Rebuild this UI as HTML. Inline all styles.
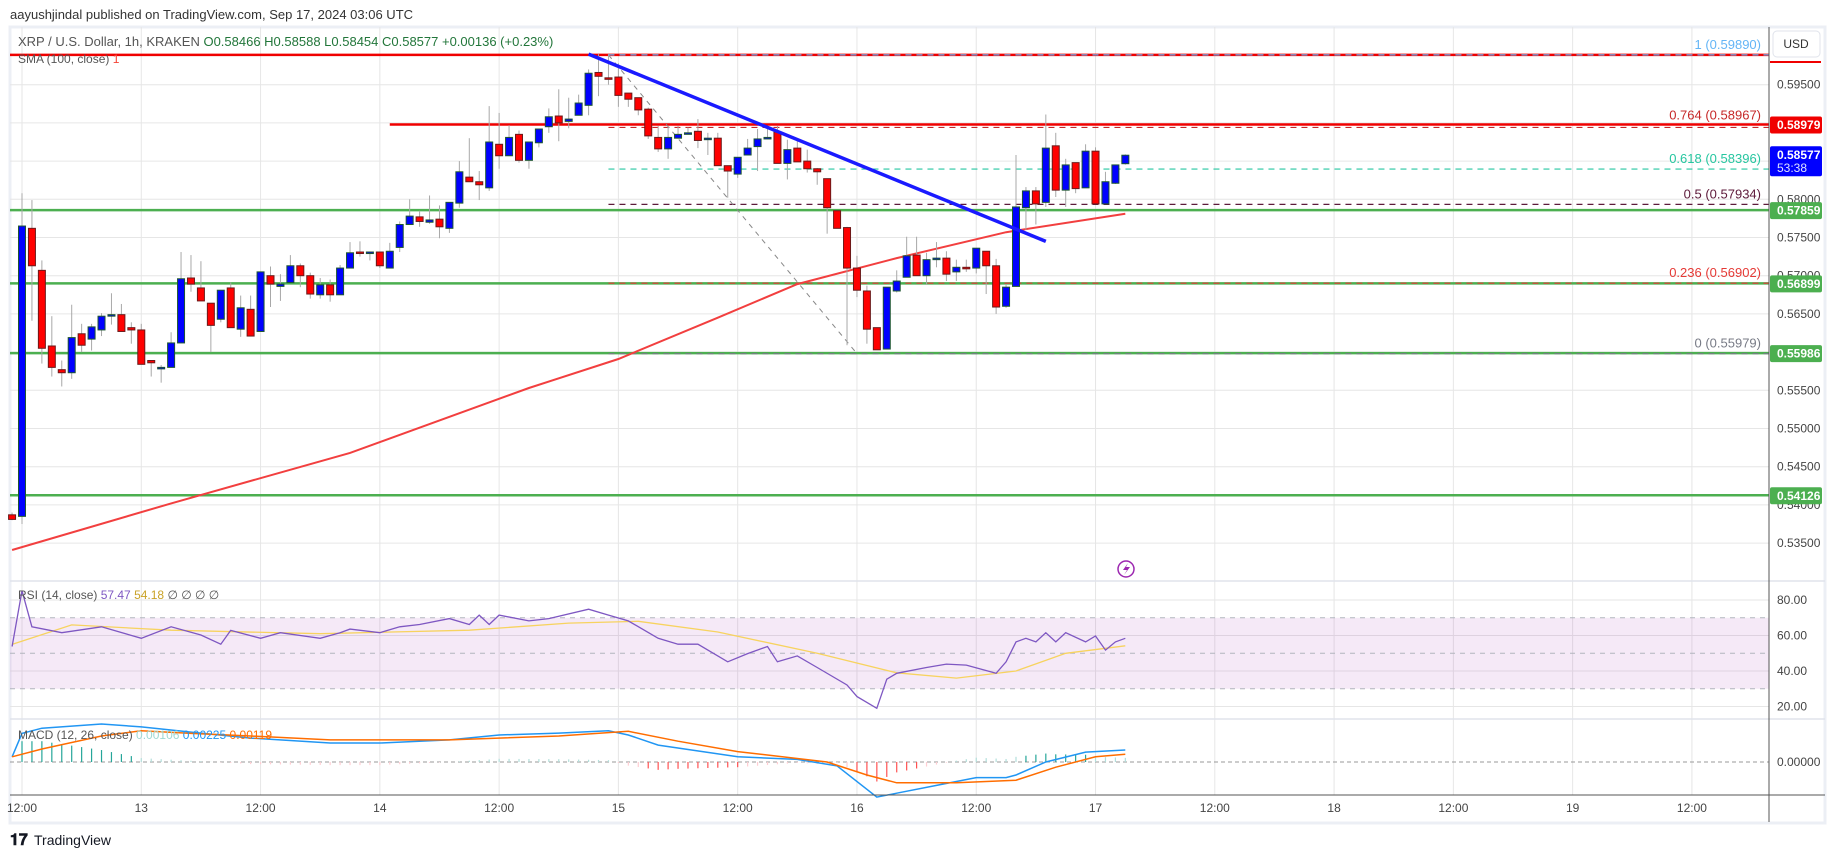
<!DOCTYPE html>
<html><head><meta charset="utf-8"><style>
html,body{margin:0;padding:0;background:#fff;width:1835px;height:857px;overflow:hidden}
svg{display:block;font-family:"Liberation Sans",sans-serif}
</style></head><body>
<svg id="chart" width="1835" height="857" viewBox="0 0 1835 857" xmlns="http://www.w3.org/2000/svg">
<text x="10" y="19" font-size="13" fill="#333">aayushjindal published on TradingView.com, Sep 17, 2024 03:06 UTC</text>
<rect x="10" y="27" width="1815" height="796" fill="#fff" stroke="#eceff5" stroke-width="3"/>
<g id="grid"></g>
<g id="levels"></g>
<g id="candles"></g>
<g id="overlay"></g>
<g id="rsi"></g>
<g id="macd"></g>
<g id="axes"></g>
<g>
<text x="18" y="46" font-size="13" fill="#555">XRP / U.S. Dollar, 1h, KRAKEN <tspan fill="#22763a">O0.58466 H0.58588 L0.58454 C0.58577 +0.00136 (+0.23%)</tspan></text>
<text x="18" y="63" font-size="12" fill="#555">SMA (100, close) <tspan fill="#f44336">1</tspan></text>
</g>
<g><text x="18" y="599" font-size="12" fill="#555">RSI (14, close) <tspan fill="#7e57c2">57.47</tspan> <tspan fill="#c9a227">54.18</tspan> ∅ ∅ ∅ ∅</text></g>
<g><text x="18" y="739" font-size="12" fill="#555">MACD (12, 26, close) <tspan fill="#9fd9d3">0.00106</tspan> <tspan fill="#2196f3">0.00225</tspan> <tspan fill="#ff6d00">0.00119</tspan></text></g>
<g><circle cx="1126" cy="569" r="8" fill="#fff" stroke="#9c27b0" stroke-width="1.5"/><path d="M1128 563 L1123 570 L1127 570 L1124 575 L1130 567 L1126 567 Z" fill="#9c27b0"/></g>
<g><text x="10" y="845" font-size="16" font-weight="bold" fill="#131722">𝟏𝟕</text><text x="34" y="845" font-size="14" fill="#131722">TradingView</text></g>
</svg>
<script>
const tIdx=[-1,0,1,2,3,4,5,6,7,8,9,10,11,12,13,14,15,16,17,18,19,20,21,22,23,24,25,26,27,28,29,30,31,32,33,34,35,36,37,38,39,40,41,42,43,44,45,46,47,48,49,50,51,52,53,54,55,56,57,58,59,60,61,62,63,64,65,66,67,68,69,70,71,72,73,74,75,76,77,78,79,80,81,82,83,84,85,86,87,88,89,90,91,92,93,94,95,96,97,98,99,100,101,102,103,104,105,106,107,108,109,110,111];
const opens=[.5387,.5385,.5762,.5707,.5608,.5577,.5573,.5624,.5617,.5629,.5648,.5649,.5632,.5629,.5589,.5579,.5580,.5612,.5697,.5684,.5664,.5643,.5684,.5630,.5656,.5627,.5700,.5686,.5691,.5713,.5700,.5675,.5688,.5675,.5710,.5731,.5729,.5731,.5710,.5737,.5767,.5777,.5770,.5774,.5762,.5795,.5829,.5823,.5815,.5872,.5857,.5885,.5851,.5874,.5895,.5909,.5902,.5910,.5923,.5966,.5959,.5960,.5939,.5933,.5918,.5881,.5866,.5880,.5887,.5889,.5879,.5880,.5844,.5833,.5858,.5869,.5879,.5888,.5847,.5867,.5850,.5840,.5827,.5785,.5763,.5710,.5680,.5632,.5604,.5680,.5698,.5727,.5700,.5721,.5723,.5705,.5711,.5710,.5732,.5713,.5660,.5686,.5789,.5811,.5796,.5870,.5812,.5848,.5815,.5863,.5794,.5821,.58466];
const highs=[.5390,.5808,.5799,.5720,.5647,.5589,.5662,.5637,.5637,.5651,.5677,.5663,.5639,.5637,.5589,.5583,.5626,.5731,.5727,.5719,.5664,.5681,.5691,.5674,.5674,.5705,.5712,.5702,.5727,.5716,.5704,.5697,.5695,.5714,.5744,.5745,.5731,.5731,.5743,.5771,.5800,.5785,.5805,.5792,.5796,.5850,.5880,.5837,.5922,.5913,.5897,.5890,.5875,.5892,.5919,.5944,.5933,.5937,.5970,.5990,.5990,.5978,.5939,.5933,.5920,.5896,.5896,.5896,.5894,.5905,.5887,.5887,.5844,.5855,.5879,.5892,.5896,.5896,.5878,.5878,.5865,.5841,.5827,.5785,.5764,.5726,.5687,.5632,.5685,.5707,.5751,.5751,.5730,.5744,.5732,.5721,.5721,.5736,.5732,.5722,.5689,.5858,.5816,.5816,.5911,.5887,.5853,.5848,.5872,.5868,.5836,.5845,.58588];
const lows=[.5380,.5375,.5641,.5585,.5568,.5555,.5565,.5600,.5602,.5621,.5636,.5627,.5611,.5584,.5568,.5560,.5580,.5612,.5679,.5667,.5600,.5639,.5632,.5620,.5621,.5627,.5659,.5667,.5691,.5685,.5670,.5670,.5666,.5675,.5710,.5725,.5720,.5710,.5710,.5731,.5767,.5764,.5768,.5749,.5756,.5789,.5823,.5799,.5811,.5840,.5857,.5848,.5840,.5868,.5887,.5876,.5893,.5910,.5910,.5935,.5950,.5921,.5921,.5910,.5879,.5862,.5853,.5880,.5885,.5867,.5858,.5844,.5802,.5828,.5858,.5837,.5879,.5847,.5826,.5849,.5835,.5819,.5755,.5762,.5609,.5672,.5611,.5603,.5604,.5678,.5698,.5700,.5688,.5711,.5693,.5693,.5705,.5703,.5676,.5650,.5658,.5686,.5760,.5767,.5790,.5803,.5790,.5808,.5815,.5794,.5794,.5820,.58454];
const closes=[.5381,.5765,.5713,.5605,.5580,.5573,.5619,.5609,.5633,.5647,.5649,.5627,.5629,.5584,.5586,.5580,.5612,.5696,.5689,.5667,.5635,.5681,.5632,.5658,.5621,.5705,.5689,.5689,.5713,.5700,.5676,.5688,.5675,.5710,.5730,.5730,.5731,.5713,.5732,.5767,.5778,.5771,.5773,.5764,.5796,.5836,.5823,.5819,.5875,.5857,.5881,.5851,.5875,.5892,.5908,.5900,.5905,.5926,.5965,.5961,.5958,.5936,.5931,.5917,.5883,.5866,.5881,.5885,.5887,.5877,.5880,.5844,.5837,.5855,.5867,.5879,.5881,.5847,.5865,.5849,.5840,.5836,.5789,.5762,.5710,.5681,.5630,.5603,.5685,.5693,.5726,.5700,.5721,.5723,.5702,.5711,.5709,.5736,.5713,.5659,.5685,.5790,.5811,.5794,.5867,.5812,.5845,.5814,.5863,.5794,.5823,.5845,.58577];
const smaT=[-1,15,33,51,60,70,78,88,99,111];
const smaV=[.5341,.5402,.5468,.5553,.5591,.5645,.5689,.5723,.5757,.5781];
const rsiT=[-1,0,1,4,8,12,15,18,20,21,24,26,30,32,33,36,38,40,43,45,46,47,48,51,53,57,59,61,64,66,68,71,73,75,76,78,80,83,84,86,87,88,91,93,95,98,99,100,101,102,103,104,105,107,108,109,110,111];
const rsiV=[53.8,85.2,64.9,61.6,64.9,58.4,64.9,60.3,55.1,62.9,58.4,61.6,58.4,61.6,63.6,61.6,64.9,66.2,69.5,66.2,71.5,66.2,71.5,68.2,69.5,74.8,71.5,68.2,58.4,55.1,55.1,45.2,49.8,53.8,45.2,48.5,42,32.1,25.6,19,35.4,38.7,42,43.9,43.3,38.7,45.2,56.4,58.4,56.4,61.6,56.4,61.6,56.4,59.7,51.8,56.4,58.4];
const rsiMaT=[-1,5,15,30,45,55,62,70,80,88,94,100,105,111];
const rsiMaV=[55,66,63,61,63,67,68,62,50,39,36,40,50,54.2];
const macdT=[-1,0,2,8,12,17,23,31,36,43,48,54,59,61,64,72,78,82,86,88,92,96,99,100,103,107,111];
const macdV=[.0002,.0011,.0013,.00146,.00135,.00115,.00092,.00073,.00073,.00085,.00104,.00111,.0012,.00104,.00065,.0002,.0001,-.00015,-.00135,-.0012,-.0009,-.0006,-.0006,-.0005,0,.00038,.00046];
const sigT=[-1,2,8,12,17,23,31,43,54,61,66,72,81,85,88,94,100,104,108,111];
const sigV=[.0002,.0005,.001,.0012,.0011,.001,.00085,.00085,.001,.00118,.0008,.0004,0,-.0005,-.0008,-.0008,-.0007,-.0002,.0002,.0003];
const priceTicks=[.595,.59,.585,.58,.575,.57,.565,.56,.555,.55,.545,.54,.535];
const timeT=[0,12,24,36,48,60,72,84,96,108,120,132,144,156,168];
const timeLabels=["12:00","13","12:00","14","12:00","15","12:00","16","12:00","17","12:00","18","12:00","19","12:00"];
const hLevels=[.59890,.57859,.56899,.55986,.54126];
const hColors=["#f00000","#4caf50","#4caf50","#4caf50","#4caf50"];
const fibRatio=["1","0.764","0.618","0.5","0.236","0"];
const fibPrice=[.59890,.58967,.58396,.57934,.56902,.55979];
const fibColor=["#64b5f6","#c62828","#26c6a0","#5d1a3a","#e53935","#787b86"];
const rsiTicks=[80,60,40,20];
const trendT=[57,103];const trendP=[.5990,.5745];
const fibDiagT=[59,84];const fibDiagP=[.5989,.5598];

const NS="http://www.w3.org/2000/svg";
const X0=22,DX=9.94,R=1769;
const xOf=t=>X0+t*DX;
const yP=p=>199.3-(p-0.58)*7640;
const yR=v=>600+(80-v)*1.775;
const yM=v=>762-v*26000;
function mk(tag,parent,attrs){const e=document.createElementNS(NS,tag);for(const k in attrs)e.setAttribute(k,attrs[k]);document.getElementById(parent).appendChild(e);return e;}
function interp(T,V,t){if(t<=T[0])return V[0];for(let i=1;i<T.length;i++){if(t<=T[i]){const f=(t-T[i-1])/(T[i]-T[i-1]);return V[i-1]+f*(V[i]-V[i-1]);}}return V[V.length-1];}
function pts(T,V,f){return T.map((t,i)=>xOf(t).toFixed(1)+","+f(V[i]).toFixed(1)).join(" ");}

// grid
timeT.forEach(t=>{const x=xOf(t);
 let g=mk('line','grid',{x1:x,x2:x,y1:27,y2:795,stroke:'#e6e6e6','stroke-width':1});
 
 });
priceTicks.forEach(p=>{let g=mk('line','grid',{x1:10,x2:R,y1:yP(p),y2:yP(p),stroke:'#e6e6e6','stroke-width':1});
 
 });
rsiTicks.forEach(v=>{let g=mk('line','grid',{x1:10,x2:R,y1:yR(v),y2:yR(v),stroke:'#e6e6e6'});
 
 });
[581,719].forEach(y=>{let g=mk('line','grid',{x1:10,x2:1825,y1:y,y2:y,stroke:'#e0e3eb','stroke-width':1.5});
 
 });

// horizontal levels
let red2=mk('line','levels',{x1:xOf(37),x2:R,y1:yP(.58979),y2:yP(.58979),stroke:'#f00000','stroke-width':2.5});


hLevels.forEach((p,i)=>{let l=mk('line','levels',{x1:10,x2:R,y1:yP(p),y2:yP(p),stroke:hColors[i],'stroke-width':2.5});
 
 });
fibPrice.forEach((p,i)=>{const y=yP(p);
 let l=mk('line','levels',{x1:xOf(59),x2:R,y1:y+(i==1?2:0),y2:y+(i==1?2:0),stroke:fibColor[i],'stroke-width':1.2,'stroke-dasharray':'6,5'});
 
 
 let tx=mk('text','levels',{x:1761,y:y-6,'text-anchor':'end','font-size':13,fill:fibColor[i]});
 tx.textContent=fibRatio[i]+' ('+p.toFixed(5)+')';
 
 });
let fd=mk('line','levels',{x1:xOf(fibDiagT[0]),y1:yP(fibDiagP[0]),x2:xOf(fibDiagT[1]),y2:yP(fibDiagP[1]),stroke:'#888','stroke-width':1,'stroke-dasharray':'5,5'});



// SMA
let sma=mk('polyline','candles',{points:pts(smaT,smaV,yP),fill:'none',stroke:'#f23f3f','stroke-width':2});



// candles
tIdx.forEach((t,i)=>{const x=xOf(t),o=opens[i],c=closes[i],up=c>=o;
 let w=mk('line','candles',{x1:x,x2:x,y1:yP(highs[i]),y2:yP(lows[i]),stroke:'#a8a8a8','stroke-width':1});
 
 
 const yt=yP(Math.max(o,c)),yb=yP(Math.min(o,c));
 let b=mk('rect','candles',{x:x-3.5,y:yt,width:7,height:Math.max(1.5,yb-yt),fill:up?'#0000ff':'#ff0000',stroke:up?'#1e5631':'#6b1a1a','stroke-width':1});
 
 });

// trend line
let tl=mk('line','overlay',{x1:xOf(trendT[0]),y1:yP(trendP[0]),x2:xOf(trendT[1]),y2:yP(trendP[1]),stroke:'#1a1aff','stroke-width':3.5});



// RSI
let band=mk('rect','rsi',{x:10,y:yR(70),width:R-10,height:yR(30)-yR(70),fill:'#9c27b0','fill-opacity':0.1});


[70,50,30].forEach(v=>{let l=mk('line','rsi',{x1:10,x2:R,y1:yR(v),y2:yR(v),stroke:'#b2b5be','stroke-dasharray':'5,5'});
 
 });
let rma=mk('polyline','rsi',{points:pts(rsiMaT,rsiMaV,yR),fill:'none',stroke:'#f7d35f','stroke-width':1.3});


let rl=mk('polyline','rsi',{points:pts(rsiT,rsiV,yR),fill:'none',stroke:'#7e57c2','stroke-width':1.3});



// MACD
let z=mk('line','macd',{x1:10,x2:R,y1:yM(0),y2:yM(0),stroke:'#999','stroke-dasharray':'4,3'});


tIdx.forEach(t=>{const h=interp(macdT,macdV,t)-interp(sigT,sigV,t);const x=xOf(t);
 const col=h>=0?(h>0.0002?'#26a69a':'#b2dfdb'):(h<-0.0002?'#ff5252':'#ffcdd2');
 let b=mk('line','macd',{x1:x,x2:x,y1:yM(0),y2:yM(h),stroke:col,'stroke-width':1.2});
 
 });
let ml=mk('polyline','macd',{points:pts(macdT,macdV,yM),fill:'none',stroke:'#2196f3','stroke-width':1.5});


let sl=mk('polyline','macd',{points:pts(sigT,sigV,yM),fill:'none',stroke:'#ff6d00','stroke-width':1.5});



// axes
let ax=mk('line','axes',{x1:R,x2:R,y1:27,y2:822,stroke:'#555','stroke-width':1});


let xa=mk('line','axes',{x1:10,x2:1825,y1:795,y2:795,stroke:'#555','stroke-width':1});


timeT.forEach((t,i)=>{let tx=mk('text','axes',{x:xOf(t),y:812,'text-anchor':'middle','font-size':12,fill:'#444'});
 tx.textContent=timeLabels[i];
 
 });
priceTicks.forEach(p=>{let tx=mk('text','axes',{x:1777,y:yP(p)+4,'font-size':12,fill:'#444'});
 tx.textContent=p.toFixed(5);
 
 });
rsiTicks.forEach(v=>{let tx=mk('text','axes',{x:1777,y:yR(v)+4,'font-size':12,fill:'#444'});
 tx.textContent=v.toFixed(2);
 
 });
let mz=mk('text','axes',{x:1777,y:yM(0)+4,'font-size':12,fill:'#444'});
mz.textContent='0.00000';


const tags=[[.58979,'#f00000','0.58979'],[.57859,'#4caf50','0.57859'],[.56899,'#4caf50','0.56899'],[.55986,'#4caf50','0.55986'],[.54126,'#4caf50','0.54126']];
tags.forEach(a=>{const y=yP(a[0]);
 let r=mk('rect','axes',{x:1770,y:y-8,width:52,height:17,fill:a[1],rx:2});
 
 
 let tx=mk('text','axes',{x:1777,y:y+4.5,'font-size':12,'font-weight':'bold',fill:'#fff'});
 tx.textContent=a[2];
 
 });
const cy=yP(closes[closes.length-1]);
let cr=mk('rect','axes',{x:1770,y:cy-9,width:52,height:30,fill:'#0000ff',rx:2});


let ct=mk('text','axes',{x:1777,y:cy+4,'font-size':12,'font-weight':'bold',fill:'#fff'});
ct.textContent=closes[closes.length-1].toFixed(5);


let cd=mk('text','axes',{x:1777,y:cy+17,'font-size':12,fill:'#dfe3ff'});
cd.textContent='53:38';


let ur=mk('line','axes',{x1:1770,x2:1821,y1:62,y2:62,stroke:'#f00000','stroke-width':2});


let ub=mk('rect','axes',{x:1773,y:31,width:47,height:26,fill:'#fff',stroke:'#e0e3eb',rx:4});


let ut=mk('text','axes',{x:1796,y:48,'text-anchor':'middle','font-size':12,fill:'#333'});
ut.textContent='USD';


</script>
</body></html>
